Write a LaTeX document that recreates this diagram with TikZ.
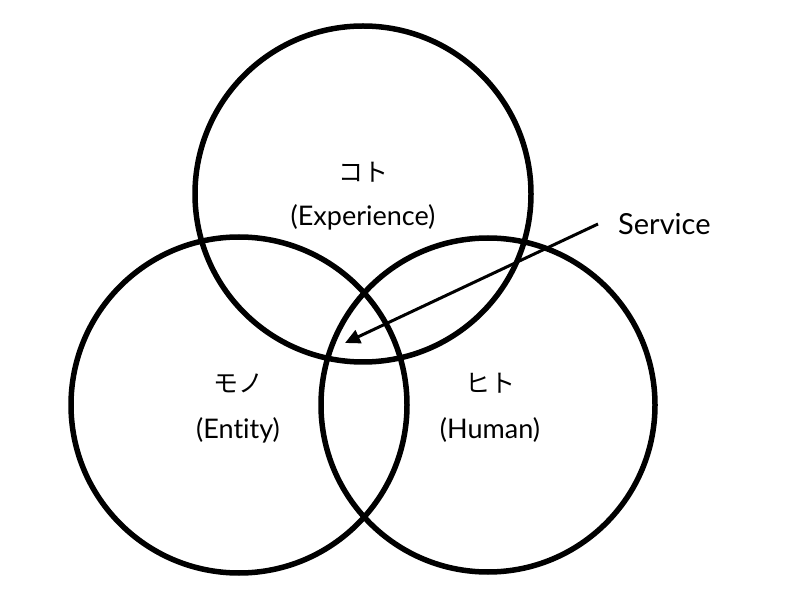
\documentclass[tikz,border=0pt]{standalone}
\usepackage{fontspec}
\setmainfont{Lato}[Ligatures={NoCommon}]
\newfontfamily\cjk{Noto Sans CJK JP}
\usetikzlibrary{arrows.meta}
\begin{document}
\begin{tikzpicture}[x=1pt,y=1pt,
  ring/.style={draw=black,line width=5.5pt},
  lbl/.style={font=\fontsize{27}{30}\selectfont,inner sep=0pt},
  jlbl/.style={font=\cjk\fontsize{25}{28}\selectfont,inner sep=0pt}]
\useasboundingbox (0,0) rectangle (800,600);
\draw[ring] (363,406) circle (168);
\draw[ring] (239,195) circle (168);
\draw[ring] (488,195) circle (167);
\node[jlbl] (koto) at (363,428) {コト};
\node[lbl] (exp) at (363,383) {(Experience)};
\node[jlbl] (mono) at (238,217) {モノ};
\node[lbl] (ent) at (238,170) {(Entity)};
\node[jlbl] (hito) at (490,217) {ヒト};
\node[lbl] (hum) at (490,170) {(Human)};
\node[lbl,anchor=west,font=\fontsize{29}{32}\selectfont] (svc) at (618,376) {Service};
\coordinate (tip) at (345,257);
\draw[line width=3pt,-{Triangle[length=15pt,width=14pt]}] ([xshift=-20pt]svc.west) -- (tip);
\end{tikzpicture}
\end{document}
